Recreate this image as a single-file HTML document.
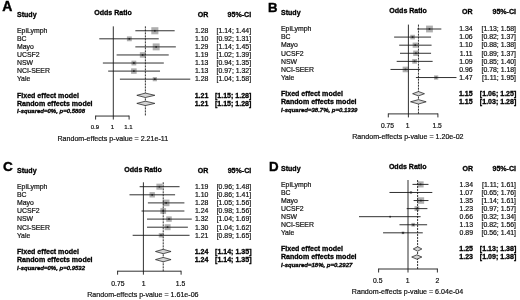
<!DOCTYPE html>
<html><head><meta charset="utf-8"><title>Forest plots</title>
<style>
html,body{margin:0;padding:0;background:#fff;}
svg{display:block;font-family:"Liberation Sans", sans-serif;fill:#111;}
text{stroke:#111;stroke-width:0.2px;}
text[font-weight="bold"]{fill:#000;stroke:#000;stroke-width:0.3px;}
</style></head>
<body>
<svg width="520" height="300" viewBox="0 0 520 300">
<rect width="520" height="300" fill="#fff"/>
<g>
<text x="2.30" y="11.20" text-anchor="start" font-weight="bold" font-style="normal" font-size="14.0" style="stroke:#000;stroke-width:0.4px">A</text>
<text x="17.00" y="16.50" text-anchor="start" font-weight="bold" font-style="normal" font-size="7.05">Study</text>
<text x="113.00" y="14.95" text-anchor="middle" font-weight="bold" font-style="normal" font-size="7.05">Odds Ratio</text>
<text x="208.40" y="16.70" text-anchor="end" font-weight="bold" font-style="normal" font-size="7.05">OR</text>
<text x="251.10" y="16.70" text-anchor="end" font-weight="bold" font-style="normal" font-size="7.05">95%-CI</text>
<text x="17.00" y="33.05" text-anchor="start" font-weight="normal" font-style="normal" font-size="6.9">EpiLymph</text>
<text x="208.40" y="33.05" text-anchor="end" font-weight="normal" font-style="normal" font-size="6.9">1.28</text>
<text x="251.10" y="33.05" text-anchor="end" font-weight="normal" font-style="normal" font-size="6.9">[1.14; 1.44]</text>
<rect x="151.30" y="27.20" width="7.10" height="7.10" fill="#afafaf"/>
<line x1="135.35" y1="30.75" x2="174.67" y2="30.75" stroke="#1a1a1a" stroke-width="0.9"/>
<rect x="154.05" y="29.95" width="1.6" height="1.6" fill="#222"/>
<text x="17.00" y="41.12" text-anchor="start" font-weight="normal" font-style="normal" font-size="6.9">BC</text>
<text x="208.40" y="41.12" text-anchor="end" font-weight="normal" font-style="normal" font-size="6.9">1.10</text>
<text x="251.10" y="41.12" text-anchor="end" font-weight="normal" font-style="normal" font-size="6.9">[0.92; 1.31]</text>
<rect x="126.89" y="36.37" width="4.89" height="4.89" fill="#afafaf"/>
<line x1="99.27" y1="38.82" x2="158.75" y2="38.82" stroke="#1a1a1a" stroke-width="0.9"/>
<rect x="128.54" y="38.02" width="1.6" height="1.6" fill="#222"/>
<text x="17.00" y="49.19" text-anchor="start" font-weight="normal" font-style="normal" font-size="6.9">Mayo</text>
<text x="208.40" y="49.19" text-anchor="end" font-weight="normal" font-style="normal" font-size="6.9">1.29</text>
<text x="251.10" y="49.19" text-anchor="end" font-weight="normal" font-style="normal" font-size="6.9">[1.14; 1.45]</text>
<rect x="152.70" y="43.43" width="6.92" height="6.92" fill="#afafaf"/>
<line x1="135.35" y1="46.89" x2="175.83" y2="46.89" stroke="#1a1a1a" stroke-width="0.9"/>
<rect x="155.36" y="46.09" width="1.6" height="1.6" fill="#222"/>
<text x="17.00" y="57.26" text-anchor="start" font-weight="normal" font-style="normal" font-size="6.9">UCSF2</text>
<text x="208.40" y="57.26" text-anchor="end" font-weight="normal" font-style="normal" font-size="6.9">1.19</text>
<text x="251.10" y="57.26" text-anchor="end" font-weight="normal" font-style="normal" font-size="6.9">[1.02; 1.39]</text>
<rect x="139.82" y="52.20" width="5.51" height="5.51" fill="#afafaf"/>
<line x1="116.63" y1="54.96" x2="168.72" y2="54.96" stroke="#1a1a1a" stroke-width="0.9"/>
<rect x="141.78" y="54.16" width="1.6" height="1.6" fill="#222"/>
<text x="17.00" y="65.33" text-anchor="start" font-weight="normal" font-style="normal" font-size="6.9">NSW</text>
<text x="208.40" y="65.33" text-anchor="end" font-weight="normal" font-style="normal" font-size="6.9">1.13</text>
<text x="251.10" y="65.33" text-anchor="end" font-weight="normal" font-style="normal" font-size="6.9">[0.94; 1.35]</text>
<rect x="131.48" y="60.64" width="4.79" height="4.79" fill="#afafaf"/>
<line x1="102.89" y1="63.03" x2="163.81" y2="63.03" stroke="#1a1a1a" stroke-width="0.9"/>
<rect x="133.07" y="62.23" width="1.6" height="1.6" fill="#222"/>
<text x="17.00" y="73.40" text-anchor="start" font-weight="normal" font-style="normal" font-size="6.9">NCI-SEER</text>
<text x="208.40" y="73.40" text-anchor="end" font-weight="normal" font-style="normal" font-size="6.9">1.13</text>
<text x="251.10" y="73.40" text-anchor="end" font-weight="normal" font-style="normal" font-size="6.9">[0.97; 1.32]</text>
<rect x="131.10" y="68.33" width="5.53" height="5.53" fill="#afafaf"/>
<line x1="108.17" y1="71.10" x2="160.03" y2="71.10" stroke="#1a1a1a" stroke-width="0.9"/>
<rect x="133.07" y="70.30" width="1.6" height="1.6" fill="#222"/>
<text x="17.00" y="81.47" text-anchor="start" font-weight="normal" font-style="normal" font-size="6.9">Yale</text>
<text x="208.40" y="81.47" text-anchor="end" font-weight="normal" font-style="normal" font-size="6.9">1.28</text>
<text x="251.10" y="81.47" text-anchor="end" font-weight="normal" font-style="normal" font-size="6.9">[1.04; 1.58]</text>
<rect x="152.74" y="77.07" width="4.20" height="4.20" fill="#afafaf"/>
<line x1="119.90" y1="79.17" x2="190.28" y2="79.17" stroke="#1a1a1a" stroke-width="0.9"/>
<rect x="154.05" y="78.37" width="1.6" height="1.6" fill="#222"/>
<line x1="113.30" y1="26.35" x2="113.30" y2="119.55" stroke="#1a1a1a" stroke-width="0.9"/>
<line x1="145.38" y1="26.35" x2="145.38" y2="116.05" stroke="#1a1a1a" stroke-width="0.9" stroke-dasharray="2.1 0.9"/>
<text x="17.00" y="97.61" text-anchor="start" font-weight="bold" font-style="normal" font-size="7.05">Fixed effect model</text>
<text x="208.40" y="97.61" text-anchor="end" font-weight="bold" font-style="normal" font-size="7.05">1.21</text>
<text x="251.40" y="97.61" text-anchor="end" font-weight="bold" font-style="normal" font-size="7.05">[1.15; 1.28]</text>
<polygon points="136.82,95.31 145.38,93.11 154.85,95.31 145.38,97.51" fill="#d4d4d4" stroke="#1a1a1a" stroke-width="0.72"/>
<text x="17.00" y="105.68" text-anchor="start" font-weight="bold" font-style="normal" font-size="7.05">Random effects model</text>
<text x="208.40" y="105.68" text-anchor="end" font-weight="bold" font-style="normal" font-size="7.05">1.21</text>
<text x="251.40" y="105.68" text-anchor="end" font-weight="bold" font-style="normal" font-size="7.05">[1.15; 1.28]</text>
<polygon points="136.82,103.38 145.38,101.18 154.85,103.38 145.38,105.58" fill="#d4d4d4" stroke="#1a1a1a" stroke-width="0.72"/>
<text x="17.00" y="113.45" text-anchor="start" font-weight="bold" font-style="italic" font-size="6.0">I-squared=0%, p=0.5808</text>
<line x1="95.60" y1="116.05" x2="129.10" y2="116.05" stroke="#1a1a1a" stroke-width="0.9"/>
<line x1="95.60" y1="115.60" x2="95.60" y2="119.55" stroke="#1a1a1a" stroke-width="0.9"/>
<text x="94.80" y="129.35" text-anchor="middle" font-weight="normal" font-style="normal" font-size="6.0">0.9</text>
<text x="112.50" y="129.35" text-anchor="middle" font-weight="normal" font-style="normal" font-size="6.0">1</text>
<line x1="129.10" y1="115.60" x2="129.10" y2="119.55" stroke="#1a1a1a" stroke-width="0.9"/>
<text x="128.30" y="129.35" text-anchor="middle" font-weight="normal" font-style="normal" font-size="6.0">1.1</text>
<text x="112.80" y="141.15" text-anchor="middle" font-weight="normal" font-style="normal" font-size="7.1">Random-effects p-value = 2.21e-11</text>
</g>
<g>
<text x="268.00" y="11.50" text-anchor="start" font-weight="bold" font-style="normal" font-size="13.2" style="stroke:#000;stroke-width:0.4px">B</text>
<text x="281.00" y="15.45" text-anchor="start" font-weight="bold" font-style="normal" font-size="7.05">Study</text>
<text x="408.10" y="13.20" text-anchor="middle" font-weight="bold" font-style="normal" font-size="7.05">Odds Ratio</text>
<text x="472.60" y="14.45" text-anchor="end" font-weight="bold" font-style="normal" font-size="7.05">OR</text>
<text x="516.00" y="14.45" text-anchor="end" font-weight="bold" font-style="normal" font-size="7.05">95%-CI</text>
<text x="281.00" y="31.30" text-anchor="start" font-weight="normal" font-style="normal" font-size="6.9">EpiLymph</text>
<text x="472.60" y="31.30" text-anchor="end" font-weight="normal" font-style="normal" font-size="6.9">1.34</text>
<text x="516.00" y="31.30" text-anchor="end" font-weight="normal" font-style="normal" font-size="6.9">[1.13; 1.58]</text>
<rect x="426.07" y="25.60" width="6.80" height="6.80" fill="#afafaf"/>
<line x1="417.20" y1="29.00" x2="441.33" y2="29.00" stroke="#1a1a1a" stroke-width="0.9"/>
<rect x="428.67" y="28.20" width="1.6" height="1.6" fill="#222"/>
<text x="281.00" y="39.39" text-anchor="start" font-weight="normal" font-style="normal" font-size="6.9">BC</text>
<text x="472.60" y="39.39" text-anchor="end" font-weight="normal" font-style="normal" font-size="6.9">1.06</text>
<text x="516.00" y="39.39" text-anchor="end" font-weight="normal" font-style="normal" font-size="6.9">[0.82; 1.37]</text>
<rect x="410.28" y="34.77" width="4.63" height="4.63" fill="#afafaf"/>
<line x1="394.11" y1="37.09" x2="431.07" y2="37.09" stroke="#1a1a1a" stroke-width="0.9"/>
<rect x="411.80" y="36.29" width="1.6" height="1.6" fill="#222"/>
<text x="281.00" y="47.48" text-anchor="start" font-weight="normal" font-style="normal" font-size="6.9">Mayo</text>
<text x="472.60" y="47.48" text-anchor="end" font-weight="normal" font-style="normal" font-size="6.9">1.10</text>
<text x="516.00" y="47.48" text-anchor="end" font-weight="normal" font-style="normal" font-size="6.9">[0.88; 1.38]</text>
<rect x="412.65" y="42.57" width="5.22" height="5.22" fill="#afafaf"/>
<line x1="399.20" y1="45.18" x2="431.59" y2="45.18" stroke="#1a1a1a" stroke-width="0.9"/>
<rect x="414.46" y="44.38" width="1.6" height="1.6" fill="#222"/>
<text x="281.00" y="55.57" text-anchor="start" font-weight="normal" font-style="normal" font-size="6.9">UCSF2</text>
<text x="472.60" y="55.57" text-anchor="end" font-weight="normal" font-style="normal" font-size="6.9">1.11</text>
<text x="516.00" y="55.57" text-anchor="end" font-weight="normal" font-style="normal" font-size="6.9">[0.89; 1.37]</text>
<rect x="413.20" y="50.56" width="5.42" height="5.42" fill="#afafaf"/>
<line x1="400.01" y1="53.27" x2="431.07" y2="53.27" stroke="#1a1a1a" stroke-width="0.9"/>
<rect x="415.11" y="52.47" width="1.6" height="1.6" fill="#222"/>
<text x="281.00" y="63.66" text-anchor="start" font-weight="normal" font-style="normal" font-size="6.9">NSW</text>
<text x="472.60" y="63.66" text-anchor="end" font-weight="normal" font-style="normal" font-size="6.9">1.09</text>
<text x="516.00" y="63.66" text-anchor="end" font-weight="normal" font-style="normal" font-size="6.9">[0.85; 1.40]</text>
<rect x="412.23" y="58.98" width="4.75" height="4.75" fill="#afafaf"/>
<line x1="396.70" y1="61.36" x2="432.63" y2="61.36" stroke="#1a1a1a" stroke-width="0.9"/>
<rect x="413.80" y="60.56" width="1.6" height="1.6" fill="#222"/>
<text x="281.00" y="71.75" text-anchor="start" font-weight="normal" font-style="normal" font-size="6.9">NCI-SEER</text>
<text x="472.60" y="71.75" text-anchor="end" font-weight="normal" font-style="normal" font-size="6.9">0.96</text>
<text x="516.00" y="71.75" text-anchor="end" font-weight="normal" font-style="normal" font-size="6.9">[0.78; 1.18]</text>
<rect x="402.65" y="66.64" width="5.62" height="5.62" fill="#afafaf"/>
<line x1="390.51" y1="69.45" x2="420.32" y2="69.45" stroke="#1a1a1a" stroke-width="0.9"/>
<rect x="404.66" y="68.65" width="1.6" height="1.6" fill="#222"/>
<text x="281.00" y="79.84" text-anchor="start" font-weight="normal" font-style="normal" font-size="6.9">Yale</text>
<text x="472.60" y="79.84" text-anchor="end" font-weight="normal" font-style="normal" font-size="6.9">1.47</text>
<text x="516.00" y="79.84" text-anchor="end" font-weight="normal" font-style="normal" font-size="6.9">[1.11; 1.95]</text>
<rect x="434.01" y="75.41" width="4.26" height="4.26" fill="#afafaf"/>
<line x1="415.91" y1="77.54" x2="456.48" y2="77.54" stroke="#1a1a1a" stroke-width="0.9"/>
<rect x="435.34" y="76.74" width="1.6" height="1.6" fill="#222"/>
<line x1="408.40" y1="24.60" x2="408.40" y2="117.40" stroke="#1a1a1a" stroke-width="0.9"/>
<line x1="418.46" y1="24.60" x2="418.46" y2="113.90" stroke="#1a1a1a" stroke-width="0.9" stroke-dasharray="2.1 0.9"/>
<text x="281.00" y="96.02" text-anchor="start" font-weight="bold" font-style="normal" font-size="7.05">Fixed effect model</text>
<text x="472.60" y="96.02" text-anchor="end" font-weight="bold" font-style="normal" font-size="7.05">1.15</text>
<text x="516.30" y="96.02" text-anchor="end" font-weight="bold" font-style="normal" font-size="7.05">[1.06; 1.25]</text>
<polygon points="412.60,93.72 418.46,91.52 424.47,93.72 418.46,95.92" fill="#d4d4d4" stroke="#1a1a1a" stroke-width="0.72"/>
<text x="281.00" y="104.11" text-anchor="start" font-weight="bold" font-style="normal" font-size="7.05">Random effects model</text>
<text x="472.60" y="104.11" text-anchor="end" font-weight="bold" font-style="normal" font-size="7.05">1.15</text>
<text x="516.30" y="104.11" text-anchor="end" font-weight="bold" font-style="normal" font-size="7.05">[1.03; 1.28]</text>
<polygon points="410.53,101.81 418.46,99.61 426.17,101.81 418.46,104.01" fill="#d4d4d4" stroke="#1a1a1a" stroke-width="0.72"/>
<text x="281.00" y="111.90" text-anchor="start" font-weight="bold" font-style="italic" font-size="6.0">I-squared=38.7%, p=0.1339</text>
<line x1="388.30" y1="113.90" x2="437.90" y2="113.90" stroke="#1a1a1a" stroke-width="0.9"/>
<line x1="388.30" y1="113.45" x2="388.30" y2="117.40" stroke="#1a1a1a" stroke-width="0.9"/>
<text x="387.50" y="128.40" text-anchor="middle" font-weight="normal" font-style="normal" font-size="6.7">0.75</text>
<text x="407.60" y="128.40" text-anchor="middle" font-weight="normal" font-style="normal" font-size="6.7">1</text>
<line x1="437.90" y1="113.45" x2="437.90" y2="117.40" stroke="#1a1a1a" stroke-width="0.9"/>
<text x="437.10" y="128.40" text-anchor="middle" font-weight="normal" font-style="normal" font-size="6.7">1.5</text>
<text x="407.90" y="139.40" text-anchor="middle" font-weight="normal" font-style="normal" font-size="7.1">Random-effects p-value = 1.20e-02</text>
</g>
<g>
<text x="2.90" y="170.70" text-anchor="start" font-weight="bold" font-style="normal" font-size="13.6" style="stroke:#000;stroke-width:0.4px">C</text>
<text x="17.00" y="172.95" text-anchor="start" font-weight="bold" font-style="normal" font-size="7.05">Study</text>
<text x="143.10" y="171.90" text-anchor="middle" font-weight="bold" font-style="normal" font-size="7.05">Odds Ratio</text>
<text x="208.40" y="173.15" text-anchor="end" font-weight="bold" font-style="normal" font-size="7.05">OR</text>
<text x="251.20" y="173.15" text-anchor="end" font-weight="bold" font-style="normal" font-size="7.05">95%-CI</text>
<text x="17.00" y="189.00" text-anchor="start" font-weight="normal" font-style="normal" font-size="6.9">EpiLymph</text>
<text x="208.40" y="189.00" text-anchor="end" font-weight="normal" font-style="normal" font-size="6.9">1.19</text>
<text x="251.20" y="189.00" text-anchor="end" font-weight="normal" font-style="normal" font-size="6.9">[0.96; 1.48]</text>
<rect x="156.39" y="183.65" width="6.09" height="6.09" fill="#afafaf"/>
<line x1="139.64" y1="186.70" x2="179.55" y2="186.70" stroke="#1a1a1a" stroke-width="0.9"/>
<rect x="158.64" y="185.90" width="1.6" height="1.6" fill="#222"/>
<text x="17.00" y="197.10" text-anchor="start" font-weight="normal" font-style="normal" font-size="6.9">BC</text>
<text x="208.40" y="197.10" text-anchor="end" font-weight="normal" font-style="normal" font-size="6.9">1.10</text>
<text x="251.20" y="197.10" text-anchor="end" font-weight="normal" font-style="normal" font-size="6.9">[0.86; 1.41]</text>
<rect x="149.49" y="192.10" width="5.40" height="5.40" fill="#afafaf"/>
<line x1="129.49" y1="194.80" x2="175.08" y2="194.80" stroke="#1a1a1a" stroke-width="0.9"/>
<rect x="151.39" y="194.00" width="1.6" height="1.6" fill="#222"/>
<text x="17.00" y="205.20" text-anchor="start" font-weight="normal" font-style="normal" font-size="6.9">Mayo</text>
<text x="208.40" y="205.20" text-anchor="end" font-weight="normal" font-style="normal" font-size="6.9">1.28</text>
<text x="251.20" y="205.20" text-anchor="end" font-weight="normal" font-style="normal" font-size="6.9">[1.05; 1.56]</text>
<rect x="162.86" y="199.60" width="6.60" height="6.60" fill="#afafaf"/>
<line x1="147.90" y1="202.90" x2="184.40" y2="202.90" stroke="#1a1a1a" stroke-width="0.9"/>
<rect x="165.36" y="202.10" width="1.6" height="1.6" fill="#222"/>
<text x="17.00" y="213.30" text-anchor="start" font-weight="normal" font-style="normal" font-size="6.9">UCSF2</text>
<text x="208.40" y="213.30" text-anchor="end" font-weight="normal" font-style="normal" font-size="6.9">1.24</text>
<text x="251.20" y="213.30" text-anchor="end" font-weight="normal" font-style="normal" font-size="6.9">[0.98; 1.56]</text>
<rect x="160.38" y="208.14" width="5.71" height="5.71" fill="#afafaf"/>
<line x1="141.54" y1="211.00" x2="184.40" y2="211.00" stroke="#1a1a1a" stroke-width="0.9"/>
<rect x="162.43" y="210.20" width="1.6" height="1.6" fill="#222"/>
<text x="17.00" y="221.40" text-anchor="start" font-weight="normal" font-style="normal" font-size="6.9">NSW</text>
<text x="208.40" y="221.40" text-anchor="end" font-weight="normal" font-style="normal" font-size="6.9">1.32</text>
<text x="251.20" y="221.40" text-anchor="end" font-weight="normal" font-style="normal" font-size="6.9">[1.04; 1.69]</text>
<rect x="166.25" y="216.35" width="5.49" height="5.49" fill="#afafaf"/>
<line x1="147.02" y1="219.10" x2="191.78" y2="219.10" stroke="#1a1a1a" stroke-width="0.9"/>
<rect x="168.20" y="218.30" width="1.6" height="1.6" fill="#222"/>
<text x="17.00" y="229.50" text-anchor="start" font-weight="normal" font-style="normal" font-size="6.9">NCI-SEER</text>
<text x="208.40" y="229.50" text-anchor="end" font-weight="normal" font-style="normal" font-size="6.9">1.30</text>
<text x="251.20" y="229.50" text-anchor="end" font-weight="normal" font-style="normal" font-size="6.9">[1.04; 1.62]</text>
<rect x="164.61" y="224.22" width="5.96" height="5.96" fill="#afafaf"/>
<line x1="147.02" y1="227.20" x2="187.88" y2="227.20" stroke="#1a1a1a" stroke-width="0.9"/>
<rect x="166.79" y="226.40" width="1.6" height="1.6" fill="#222"/>
<text x="17.00" y="237.60" text-anchor="start" font-weight="normal" font-style="normal" font-size="6.9">Yale</text>
<text x="208.40" y="237.60" text-anchor="end" font-weight="normal" font-style="normal" font-size="6.9">1.21</text>
<text x="251.20" y="237.60" text-anchor="end" font-weight="normal" font-style="normal" font-size="6.9">[0.89; 1.65]</text>
<rect x="158.76" y="233.09" width="4.43" height="4.43" fill="#afafaf"/>
<line x1="132.66" y1="235.30" x2="189.57" y2="235.30" stroke="#1a1a1a" stroke-width="0.9"/>
<rect x="160.18" y="234.50" width="1.6" height="1.6" fill="#222"/>
<line x1="143.40" y1="182.30" x2="143.40" y2="274.70" stroke="#1a1a1a" stroke-width="0.9"/>
<line x1="163.23" y1="182.30" x2="163.23" y2="271.20" stroke="#1a1a1a" stroke-width="0.9" stroke-dasharray="2.1 0.9"/>
<text x="17.00" y="253.80" text-anchor="start" font-weight="bold" font-style="normal" font-size="7.05">Fixed effect model</text>
<text x="208.40" y="253.80" text-anchor="end" font-weight="bold" font-style="normal" font-size="7.05">1.24</text>
<text x="251.50" y="253.80" text-anchor="end" font-weight="bold" font-style="normal" font-size="7.05">[1.14; 1.35]</text>
<polygon points="155.48,251.50 163.23,249.30 171.07,251.50 163.23,253.70" fill="#d4d4d4" stroke="#1a1a1a" stroke-width="0.72"/>
<text x="17.00" y="261.90" text-anchor="start" font-weight="bold" font-style="normal" font-size="7.05">Random effects model</text>
<text x="208.40" y="261.90" text-anchor="end" font-weight="bold" font-style="normal" font-size="7.05">1.24</text>
<text x="251.50" y="261.90" text-anchor="end" font-weight="bold" font-style="normal" font-size="7.05">[1.14; 1.35]</text>
<polygon points="155.48,259.60 163.23,257.40 171.07,259.60 163.23,261.80" fill="#d4d4d4" stroke="#1a1a1a" stroke-width="0.72"/>
<text x="17.00" y="269.70" text-anchor="start" font-weight="bold" font-style="italic" font-size="6.0">I-squared=0%, p=0.9532</text>
<line x1="117.60" y1="271.20" x2="181.10" y2="271.20" stroke="#1a1a1a" stroke-width="0.9"/>
<line x1="117.60" y1="270.75" x2="117.60" y2="274.70" stroke="#1a1a1a" stroke-width="0.9"/>
<text x="117.90" y="285.60" text-anchor="middle" font-weight="normal" font-style="normal" font-size="6.8">0.75</text>
<text x="143.60" y="285.60" text-anchor="middle" font-weight="normal" font-style="normal" font-size="6.8">1</text>
<line x1="181.10" y1="270.75" x2="181.10" y2="274.70" stroke="#1a1a1a" stroke-width="0.9"/>
<text x="180.50" y="285.60" text-anchor="middle" font-weight="normal" font-style="normal" font-size="6.8">1.5</text>
<text x="142.90" y="297.10" text-anchor="middle" font-weight="normal" font-style="normal" font-size="7.1">Random-effects p-value = 1.61e-06</text>
</g>
<g>
<text x="269.00" y="171.40" text-anchor="start" font-weight="bold" font-style="normal" font-size="13.3" style="stroke:#000;stroke-width:0.4px">D</text>
<text x="281.00" y="170.65" text-anchor="start" font-weight="bold" font-style="normal" font-size="7.05">Study</text>
<text x="407.70" y="169.30" text-anchor="middle" font-weight="bold" font-style="normal" font-size="7.05">Odds Ratio</text>
<text x="473.00" y="170.85" text-anchor="end" font-weight="bold" font-style="normal" font-size="7.05">OR</text>
<text x="516.00" y="170.85" text-anchor="end" font-weight="bold" font-style="normal" font-size="7.05">95%-CI</text>
<text x="281.00" y="186.70" text-anchor="start" font-weight="normal" font-style="normal" font-size="6.9">EpiLymph</text>
<text x="473.00" y="186.70" text-anchor="end" font-weight="normal" font-style="normal" font-size="6.9">1.34</text>
<text x="516.00" y="186.70" text-anchor="end" font-weight="normal" font-style="normal" font-size="6.9">[1.11; 1.61]</text>
<rect x="417.55" y="181.36" width="6.08" height="6.08" fill="#afafaf"/>
<line x1="412.49" y1="184.40" x2="428.48" y2="184.40" stroke="#1a1a1a" stroke-width="0.9"/>
<rect x="419.78" y="183.60" width="1.6" height="1.6" fill="#222"/>
<text x="281.00" y="194.77" text-anchor="start" font-weight="normal" font-style="normal" font-size="6.9">BC</text>
<text x="473.00" y="194.77" text-anchor="end" font-weight="normal" font-style="normal" font-size="6.9">1.07</text>
<text x="516.00" y="194.77" text-anchor="end" font-weight="normal" font-style="normal" font-size="6.9">[0.65; 1.76]</text>
<rect x="409.66" y="191.22" width="2.50" height="2.50" fill="#afafaf"/>
<line x1="389.48" y1="192.47" x2="432.31" y2="192.47" stroke="#1a1a1a" stroke-width="0.9"/>
<rect x="410.11" y="191.67" width="1.6" height="1.6" fill="#222"/>
<text x="281.00" y="202.84" text-anchor="start" font-weight="normal" font-style="normal" font-size="6.9">Mayo</text>
<text x="473.00" y="202.84" text-anchor="end" font-weight="normal" font-style="normal" font-size="6.9">1.35</text>
<text x="516.00" y="202.84" text-anchor="end" font-weight="normal" font-style="normal" font-size="6.9">[1.14; 1.61]</text>
<rect x="417.65" y="197.29" width="6.50" height="6.50" fill="#afafaf"/>
<line x1="413.63" y1="200.54" x2="428.48" y2="200.54" stroke="#1a1a1a" stroke-width="0.9"/>
<rect x="420.10" y="199.74" width="1.6" height="1.6" fill="#222"/>
<text x="281.00" y="210.91" text-anchor="start" font-weight="normal" font-style="normal" font-size="6.9">UCSF2</text>
<text x="473.00" y="210.91" text-anchor="end" font-weight="normal" font-style="normal" font-size="6.9">1.23</text>
<text x="516.00" y="210.91" text-anchor="end" font-weight="normal" font-style="normal" font-size="6.9">[0.97; 1.57]</text>
<rect x="414.49" y="206.20" width="4.82" height="4.82" fill="#afafaf"/>
<line x1="406.69" y1="208.61" x2="427.40" y2="208.61" stroke="#1a1a1a" stroke-width="0.9"/>
<rect x="416.10" y="207.81" width="1.6" height="1.6" fill="#222"/>
<text x="281.00" y="218.98" text-anchor="start" font-weight="normal" font-style="normal" font-size="6.9">NSW</text>
<text x="473.00" y="218.98" text-anchor="end" font-weight="normal" font-style="normal" font-size="6.9">0.66</text>
<text x="516.00" y="218.98" text-anchor="end" font-weight="normal" font-style="normal" font-size="6.9">[0.32; 1.34]</text>
<line x1="359.00" y1="216.68" x2="420.58" y2="216.68" stroke="#1a1a1a" stroke-width="0.9"/>
<rect x="389.33" y="215.88" width="1.6" height="1.6" fill="#222"/>
<text x="281.00" y="227.05" text-anchor="start" font-weight="normal" font-style="normal" font-size="6.9">NCI-SEER</text>
<text x="473.00" y="227.05" text-anchor="end" font-weight="normal" font-style="normal" font-size="6.9">1.13</text>
<text x="516.00" y="227.05" text-anchor="end" font-weight="normal" font-style="normal" font-size="6.9">[0.82; 1.56]</text>
<rect x="411.40" y="222.89" width="3.71" height="3.71" fill="#afafaf"/>
<line x1="399.47" y1="224.75" x2="427.12" y2="224.75" stroke="#1a1a1a" stroke-width="0.9"/>
<rect x="412.46" y="223.95" width="1.6" height="1.6" fill="#222"/>
<text x="281.00" y="235.12" text-anchor="start" font-weight="normal" font-style="normal" font-size="6.9">Yale</text>
<text x="473.00" y="235.12" text-anchor="end" font-weight="normal" font-style="normal" font-size="6.9">0.89</text>
<text x="516.00" y="235.12" text-anchor="end" font-weight="normal" font-style="normal" font-size="6.9">[0.56; 1.41]</text>
<rect x="401.65" y="231.48" width="2.68" height="2.68" fill="#afafaf"/>
<line x1="383.07" y1="232.82" x2="422.77" y2="232.82" stroke="#1a1a1a" stroke-width="0.9"/>
<rect x="402.19" y="232.02" width="1.6" height="1.6" fill="#222"/>
<line x1="408.00" y1="180.00" x2="408.00" y2="272.50" stroke="#1a1a1a" stroke-width="0.9"/>
<line x1="417.60" y1="180.00" x2="417.60" y2="269.00" stroke="#1a1a1a" stroke-width="0.9" stroke-dasharray="2.1 0.9"/>
<text x="281.00" y="251.26" text-anchor="start" font-weight="bold" font-style="normal" font-size="7.05">Fixed effect model</text>
<text x="473.00" y="251.26" text-anchor="end" font-weight="bold" font-style="normal" font-size="7.05">1.25</text>
<text x="516.30" y="251.26" text-anchor="end" font-weight="bold" font-style="normal" font-size="7.05">[1.13; 1.38]</text>
<polygon points="413.26,248.96 417.60,246.76 421.85,248.96 417.60,251.16" fill="#d4d4d4" stroke="#1a1a1a" stroke-width="0.72"/>
<text x="281.00" y="259.33" text-anchor="start" font-weight="bold" font-style="normal" font-size="7.05">Random effects model</text>
<text x="473.00" y="259.33" text-anchor="end" font-weight="bold" font-style="normal" font-size="7.05">1.23</text>
<text x="516.30" y="259.33" text-anchor="end" font-weight="bold" font-style="normal" font-size="7.05">[1.09; 1.38]</text>
<polygon points="411.71,257.03 416.90,254.83 421.85,257.03 416.90,259.23" fill="#d4d4d4" stroke="#1a1a1a" stroke-width="0.72"/>
<text x="281.00" y="267.10" text-anchor="start" font-weight="bold" font-style="italic" font-size="6.0">I-squared=18%, p=0.2927</text>
<line x1="378.60" y1="269.00" x2="437.40" y2="269.00" stroke="#1a1a1a" stroke-width="0.9"/>
<line x1="378.60" y1="268.55" x2="378.60" y2="272.50" stroke="#1a1a1a" stroke-width="0.9"/>
<text x="377.80" y="282.90" text-anchor="middle" font-weight="normal" font-style="normal" font-size="6.8">0.5</text>
<text x="407.70" y="282.90" text-anchor="middle" font-weight="normal" font-style="normal" font-size="6.8">1</text>
<line x1="437.40" y1="268.55" x2="437.40" y2="272.50" stroke="#1a1a1a" stroke-width="0.9"/>
<text x="437.30" y="282.90" text-anchor="middle" font-weight="normal" font-style="normal" font-size="6.8">2</text>
<text x="407.50" y="294.10" text-anchor="middle" font-weight="normal" font-style="normal" font-size="7.1">Random-effects p-value = 6.04e-04</text>
</g>
</svg>
</body></html>
